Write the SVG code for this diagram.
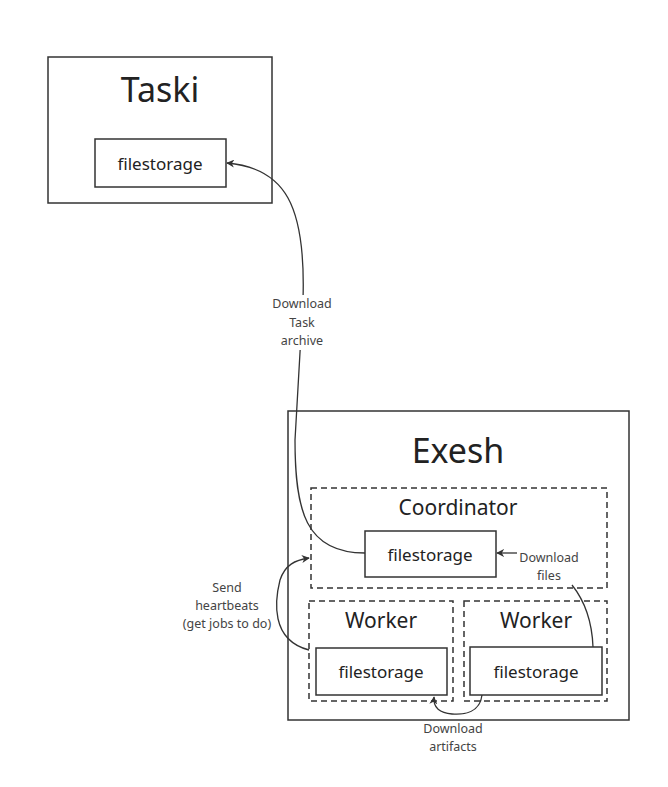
<svg xmlns="http://www.w3.org/2000/svg" width="668" height="787" viewBox="0 0 668 787">
<style>
.box{fill:#fff;stroke:#333;stroke-width:1.5}
.dash{fill:none;stroke:#333;stroke-width:1.5;stroke-dasharray:6 4}
.t{font-family:"Noto Sans","Open Sans",sans-serif;fill:#222;text-anchor:middle}
.lbl{font-family:"Noto Sans","Open Sans",sans-serif;fill:#444;text-anchor:middle;font-size:12.5px}
.edge{fill:none;stroke:#333;stroke-width:1.3}
</style>
<defs>
<marker id="ah" viewBox="0 0 10 10" refX="9" refY="5" markerWidth="8" markerHeight="8" orient="auto-start-reverse" markerUnits="userSpaceOnUse">
<path d="M0,0 L10,5 L0,10 L3,5 Z" fill="#333"/>
</marker>
</defs>
<rect width="668" height="787" fill="#fff"/>
<g id="taski">
<rect class="box" x="48" y="57" width="224" height="146"/>
<text class="t" x="160" y="102" font-size="34">Taski</text>
</g>
<g id="taski-fs">
<rect class="box" x="95" y="139" width="131" height="48"/>
<text class="t" x="160" y="170" font-size="17">filestorage</text>
</g>
<g id="exesh">
<rect class="box" x="288" y="411" width="341" height="309"/>
<text class="t" x="458" y="463" font-size="34">Exesh</text>
</g>
<g id="coordinator">
<rect class="dash" x="311" y="488" width="296" height="100"/>
<text class="t" x="458" y="515" font-size="21">Coordinator</text>
</g>
<g id="coord-fs">
<rect class="box" x="365" y="531" width="131" height="46"/>
<text class="t" x="430" y="561" font-size="17">filestorage</text>
</g>
<g id="worker1">
<rect class="dash" x="309" y="601" width="144" height="100"/>
<text class="t" x="381" y="628" font-size="21">Worker</text>
</g>
<g id="worker1-fs">
<rect class="box" x="316" y="648" width="131" height="47"/>
<text class="t" x="381" y="678" font-size="17">filestorage</text>
</g>
<g id="worker2">
<rect class="dash" x="464" y="601" width="143" height="100"/>
<text class="t" x="536" y="628" font-size="21">Worker</text>
</g>
<g id="worker2-fs">
<rect class="box" x="470" y="647" width="132" height="48"/>
<text class="t" x="536" y="678" font-size="17">filestorage</text>
</g>
<g id="connectors">
<path class="edge" d="M365,553 C305,553 295,510 295,440 L303,300 C306,205 285,168 227,163" marker-end="url(#ah)"/>
<rect x="268" y="295" width="68" height="55" fill="#fff"/>
<text class="lbl" x="302" y="308">Download</text>
<text class="lbl" x="302" y="327">Task</text>
<text class="lbl" x="302" y="345">archive</text>

<path class="edge" d="M517,553 L497,553" marker-end="url(#ah)"/>
<text class="lbl" x="549" y="562">Download</text>
<text class="lbl" x="549" y="580">files</text>
<path class="edge" d="M593,647 C592,620 584,600 572,585"/>

<path class="edge" d="M309,650 C270,640 275,600 280,580 C285,565 295,560 309,558" marker-end="url(#ah)"/>
<text class="lbl" x="227" y="592">Send</text>
<text class="lbl" x="227" y="610">heartbeats</text>
<text class="lbl" x="227" y="628">(get jobs to do)</text>

<path class="edge" d="M482,695 C480,712 465,715 452,714 C440,713 433,708 434,697" marker-end="url(#ah)"/>
<text class="lbl" x="453" y="733">Download</text>
<text class="lbl" x="453" y="751">artifacts</text>
</g>
</svg>
